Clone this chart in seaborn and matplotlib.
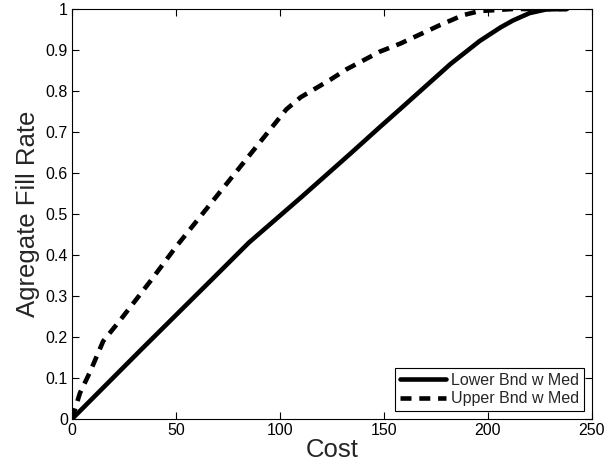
import numpy as np
import pandas as pd
import matplotlib
matplotlib.use("Agg")
import matplotlib.pyplot as plt
import seaborn as sns

# Aggregate fill rate versus cost for the two bounds
lower_cost = [0, 33, 67, 85, 110, 134, 148, 158, 182, 196, 206, 212, 220, 228, 238]
lower_rate = [0, 0.168, 0.339, 0.43, 0.54, 0.648, 0.712, 0.757, 0.866, 0.922,
              0.955, 0.972, 0.99, 0.999, 1.0]

upper_cost = [0, 3.8, 8.7, 15, 23, 37.5, 50, 85.6, 103, 110, 124, 132, 148, 158,
              177, 188, 196, 212, 238]
upper_rate = [0, 0.063, 0.115, 0.19, 0.24, 0.335, 0.42, 0.645, 0.755, 0.785,
              0.827, 0.853, 0.896, 0.916, 0.961, 0.985, 0.995, 1.0, 1.0]

series_names = ["Lower Bnd w Med", "Upper Bnd w Med"]
x_ticks = [0, 50, 100, 150, 200, 250]
y_ticks = [0, 0.1, 0.2, 0.3, 0.4, 0.5, 0.6, 0.7, 0.8, 0.9, 1]

df = pd.concat([
    pd.DataFrame({"Cost": lower_cost, "Rate": lower_rate, "Series": series_names[0]}),
    pd.DataFrame({"Cost": upper_cost, "Rate": upper_rate, "Series": series_names[1]}),
], ignore_index=True)

sns.set_style("ticks")
plt.rcParams["font.family"] = ["Liberation Sans", "DejaVu Sans"]

fig = plt.figure(figsize=(6.04, 4.70), dpi=100)
ax = fig.add_axes([72 / 604, 1 - 419 / 470, 520 / 604, 410 / 470])

sns.lineplot(data=df, x="Cost", y="Rate", hue="Series", style="Series",
             palette={series_names[0]: "black", series_names[1]: "black"},
             dashes={series_names[0]: "", series_names[1]: (2.4, 1.7)},
             linewidth=3.3, sort=False, estimator=None, ax=ax)

ax.set_xlim(0, 250)
ax.set_ylim(0, 1)
ax.set_xticks(x_ticks)
ax.set_xticklabels([str(t) for t in x_ticks])
ax.set_yticks(y_ticks)
ax.set_yticklabels(["0", "0.1", "0.2", "0.3", "0.4", "0.5", "0.6", "0.7", "0.8", "0.9", "1"])

for s in ax.spines.values():
    s.set_visible(True)
    s.set_color("black")
    s.set_linewidth(0.8)

ax.tick_params(direction="in", length=5, width=0.8, colors="black",
               labelsize=11.5, top=True, right=True, pad=3)

ax.set_xlabel("Cost", fontsize=18.5, labelpad=0)
ax.set_ylabel("Agregate Fill Rate", fontsize=18.5, labelpad=4)

leg = ax.legend(loc="lower right", fontsize=11.5, frameon=True, fancybox=False,
                framealpha=1, edgecolor="black", handlelength=2.9,
                handletextpad=0.3, borderpad=0.3, labelspacing=0.2,
                borderaxespad=0.5)
leg.get_frame().set_linewidth(0.8)

fig.savefig("out.png", dpi=100)
